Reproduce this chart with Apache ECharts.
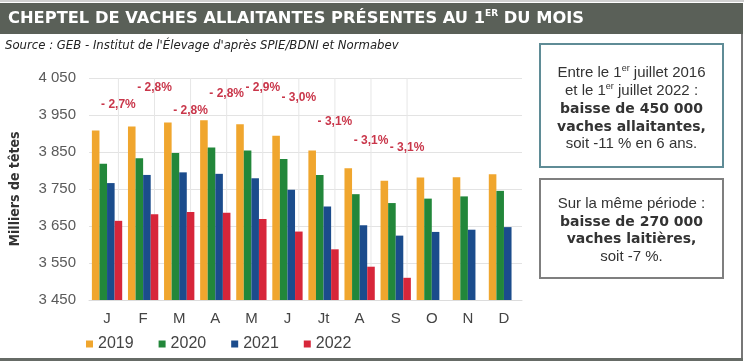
<!DOCTYPE html>
<html>
<head>
<meta charset="utf-8">
<script src="https://cdn.jsdelivr.net/npm/echarts@6/dist/echarts.min.js"></script>
<style>
html,body{margin:0;padding:0;background:#fff;}
#chart{width:747px;height:363px;}
</style>
</head>
<body>
<div id="chart"></div>
<script>
// ---- data ----
const months = ['J', 'F', 'M', 'A', 'M', 'J', 'Jt', 'A', 'S', 'O', 'N', 'D'];
const years = ['2019', '2020', '2021', '2022'];
const s2019 = [3908, 3919, 3930, 3936, 3925, 3894, 3854, 3806, 3772, 3781, 3782, 3790];
const s2020 = [3818, 3833, 3847, 3862, 3854, 3831, 3788, 3736, 3712, 3724, 3730, 3745];
const s2021 = [3766, 3788, 3795, 3791, 3779, 3748, 3703, 3652, 3624, 3634, 3640, 3647];
const s2022 = [3664, 3682, 3688, 3686, 3669, 3635, 3587, 3540, 3510, null, null, null];
const pctLabels = ['- 2,7%', '- 2,8%', '- 2,8%', '- 2,8%', '- 2,9%', '- 3,0%', '- 3,1%', '- 3,1%', '- 3,1%'];
const pctLevels = [3977, 4023, 3961, 4007, 4023, 3996, 3931, 3880, 3861];
const yMin = 3450, yMax = 4050, yStep = 100;

const colors = ['#f0a62e', '#22873a', '#1b4c8c', '#d7263a'];
const narrow = "'Liberation Sans Narrow', 'DejaVu Sans Condensed', 'Liberation Sans', sans-serif";
const sans = "'Liberation Sans', Arial, sans-serif";
const dv = "'DejaVu Sans', sans-serif";

const chart = echarts.init(document.getElementById('chart'), null, {renderer: 'canvas'});

const barSeries = [s2019, s2020, s2021, s2022].map((d, k) => ({
  name: years[k],
  type: 'bar',
  data: d,
  barGap: '0%',
  barCategoryGap: '16%',
  itemStyle: {color: colors[k]},
  z: 2
}));

const labelSeries = {
  type: 'custom',
  z: 1,
  silent: true,
  data: pctLabels.map((t, i) => [i, pctLevels[i], s2022[i]]),
  renderItem: function (params, api) {
    const i = api.value(0);
    const band = api.size([1, 0])[0];
    const off = band * 0.84 / 4 * 1.5;
    const top = api.coord([i, yMax]);
    const lab = api.coord([i, api.value(1)]);
    const bar = api.coord([i, api.value(2)]);
    const x = lab[0] + off;
    return {
      type: 'group',
      children: [
        {type: 'line', shape: {x1: x, y1: top[1], x2: x, y2: bar[1]},
         style: {stroke: '#e6e6e6', lineWidth: 1}},
        {type: 'text', x: x, y: lab[1], z2: 10,
         style: {text: pctLabels[i], fill: '#c9364a', font: "bold 12px " + sans,
                 align: 'center', verticalAlign: 'middle'}}
      ]
    };
  }
};

function boxLine(text, y, bold, rich) {
  return {
    type: 'text', x: 631.5, y: y, z: 20,
    style: {
      text: text,
      fill: '#333',
      font: bold ? ("bold 14px " + dv) : ("14px " + sans),
      align: 'center', verticalAlign: 'middle',
      rich: rich
    }
  };
}
const supRich = {
  n: {font: "15px " + sans, fill: '#333', lineHeight: 18},
  s: {font: "9px " + sans, fill: '#333', lineHeight: 18, verticalAlign: 'top', padding: [0, 0, 6, 0]}
};

const option = {
  animation: false,
  backgroundColor: '#ffffff',
  grid: {left: 83, right: 225, top: 78, bottom: 63},
  legend: {
    left: 86, top: 336, padding: 0,
    icon: 'rect', itemWidth: 7, itemHeight: 7, itemGap: 25,
    textStyle: {fontSize: 16, color: '#444', fontFamily: sans},
    data: years
  },
  xAxis: {
    type: 'category',
    data: months,
    axisLine: {show: true, lineStyle: {color: '#dcdcdc'}},
    axisTick: {show: false},
    axisLabel: {color: '#444', fontSize: 15, margin: 11, fontFamily: sans}
  },
  yAxis: {
    type: 'value',
    min: yMin, max: yMax, interval: yStep,
    name: 'Milliers de têtes',
    nameLocation: 'middle',
    nameRotate: 90,
    nameGap: 67,
    nameTextStyle: {fontSize: 14, fontWeight: 'bold', color: '#333', fontFamily: narrow},
    axisLine: {show: false},
    axisTick: {show: false},
    axisLabel: {
      color: '#5a5a5a', fontSize: 15, margin: 13, fontFamily: sans,
      formatter: function (v) { const s = String(v); return s.slice(0, s.length - 3) + ' ' + s.slice(-3); }
    },
    splitLine: {lineStyle: {color: '#e3e3e3'}}
  },
  series: barSeries.concat([labelSeries]),
  graphic: [
    {type: 'rect', shape: {x: 0, y: 0, width: 744, height: 2}, style: {fill: '#d0d0d0'}},
    {type: 'rect', shape: {x: 0, y: 3, width: 743, height: 31}, style: {fill: '#5a6058'}},
    {type: 'text', x: 8, y: 19, z: 20, style: {
      text: '{t|CHEPTEL DE VACHES ALLAITANTES PRÉSENTES AU 1}{s|ER}{t| DU MOIS}',
      verticalAlign: 'middle',
      rich: {
        t: {font: "bold 16.3px " + dv, fill: '#ffffff', lineHeight: 20},
        s: {font: "bold 9px " + dv, fill: '#ffffff', lineHeight: 20, verticalAlign: 'top', padding: [0, 0, 7, 0]}
      }
    }},
    {type: 'text', x: 5, y: 46, z: 20, style: {
      text: "Source : GEB - Institut de l'Élevage d'après SPIE/BDNI et Normabev",
      fill: '#222', font: "italic 13px " + narrow, verticalAlign: 'middle'
    }},
    {type: 'line', shape: {x1: 742, y1: 34, x2: 742, y2: 360}, style: {stroke: '#777', lineWidth: 2}},
    {type: 'line', shape: {x1: 0, y1: 359.5, x2: 743, y2: 359.5}, style: {stroke: '#666b66', lineWidth: 3}},
    {type: 'rect', shape: {x: 540, y: 44, width: 183, height: 123}, style: {fill: '#fff', stroke: '#5f8c96', lineWidth: 2}},
    {type: 'rect', shape: {x: 540, y: 179, width: 183, height: 99}, style: {fill: '#fff', stroke: '#7f7f7f', lineWidth: 2}},
    boxLine('{n|Entre le 1}{s|er}{n| juillet 2016}', 73, false, supRich),
    boxLine('{n|et le 1}{s|er}{n| juillet 2022 :}', 91, false, supRich),
    boxLine('baisse de 450 000', 109, true),
    boxLine('vaches allaitantes,', 127, true),
    boxLine('{n|soit -11 % en 6 ans.}', 144, false, supRich),
    boxLine('{n|Sur la même période :}', 204, false, supRich),
    boxLine('baisse de 270 000', 222, true),
    boxLine('vaches laitières,', 239, true),
    boxLine('{n|soit -7 %.}', 257, false, supRich)
  ]
};
chart.setOption(option);
</script>
</body>
</html>
